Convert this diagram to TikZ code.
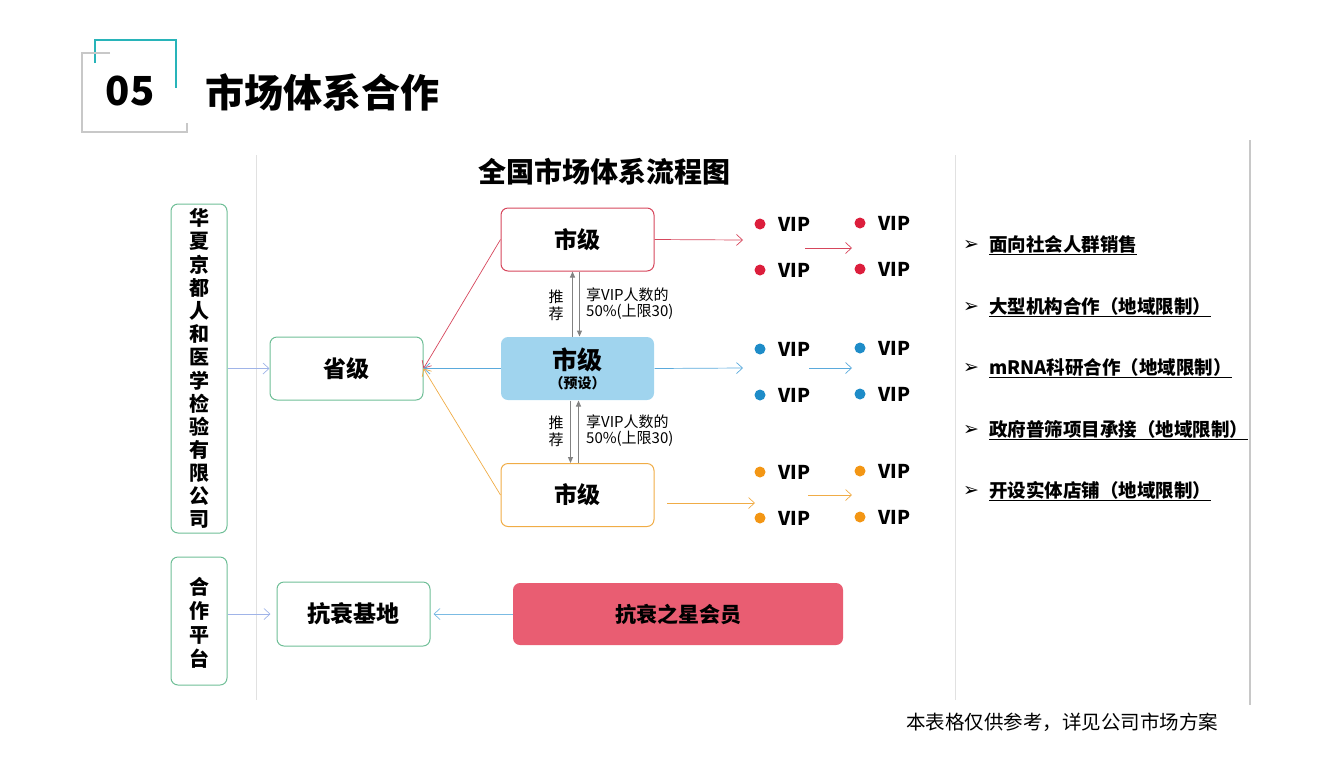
\documentclass[tikz,border=0pt]{standalone}
\usepackage{fontspec}
\setmainfont{Noto Sans CJK SC}
\newfontfamily\djv{DejaVu Sans}
\usetikzlibrary{arrows.meta}
\definecolor{gbox}{RGB}{110,190,150}
\definecolor{cred}{RGB}{214,70,92}
\definecolor{dred}{RGB}{220,30,60}
\definecolor{bfill}{RGB}{160,212,238}
\definecolor{barr}{RGB}{90,170,220}
\definecolor{dblue}{RGB}{30,140,200}
\definecolor{corg}{RGB}{240,172,70}
\definecolor{dorg}{RGB}{243,150,20}
\definecolor{teal}{RGB}{40,180,185}
\definecolor{gbr}{RGB}{200,200,200}
\definecolor{vline}{RGB}{225,225,225}
\definecolor{pinkf}{RGB}{233,93,114}
\definecolor{lav}{RGB}{160,180,232}
\definecolor{garr}{RGB}{130,130,130}
\tikzset{
  box/.style={draw=gbox, line width=1pt, rounded corners=7pt, minimum width=153pt, minimum height=63pt, font=\bfseries\fontsize{23}{26}\selectfont, inner sep=0pt},
  vbox/.style={draw=gbox, line width=1pt, rounded corners=7pt, minimum width=56pt, inner sep=0pt},
  vch/.style={font=\bfseries\fontsize{20}{22}\selectfont, inner sep=0pt},
  oarr/.style={-{Straight Barb[length=6pt,width=11pt]}, line width=0.7pt},
  garrow/.style={-{Triangle[length=6pt,width=5pt]}, line width=1pt, draw=garr},
  vip/.style={font=\bfseries\fontsize{19}{21}\selectfont, anchor=west, inner sep=0pt},
  glab/.style={font=\fontsize{15}{17}\selectfont, inner sep=0pt},
  item/.style={font=\bfseries\fontsize{18.5}{21}\selectfont, anchor=west, inner sep=0pt},
}
\begin{document}
\begin{tikzpicture}[x=1pt,y=-1pt]
\useasboundingbox (0,0) rectangle (1344,756);
% header
\draw[teal, line width=2.5pt] (95,63) -- (95,40) -- (176,40) -- (176,88);
\draw[gbr, line width=2.5pt] (110,53) -- (82,53) -- (82,132) -- (187,132) -- (187,123);
\node[font=\bfseries\fontsize{40}{44}\selectfont, inner sep=0pt] (num) at (130,91) {05};
\node[font=\bfseries\fontsize{39}{42}\selectfont, anchor=west, inner sep=0pt] (title) at (205,92) {市场体系合作};
% vertical separators
\draw[vline, line width=1pt] (256,155) -- (256,700);
\draw[vline, line width=1pt] (955,155) -- (955,700);
\draw[gbr, line width=1.5pt] (1250,140) -- (1250,705);
\node[font=\bfseries\fontsize{28}{30}\selectfont, inner sep=0pt] (sub) at (604,172) {全国市场体系流程图};
% left boxes
\node[vbox, minimum height=329pt] (co) at (199,368.5) {};
\foreach \ch [count=\i] in {华,夏,京,都,人,和,医,学,检,验,有,限,公,司}{
  \node[vch] (coc\i) at (199,{218+(\i-1)*23.2}) {\ch};
}
\node[vbox, minimum height=128pt] (plat) at (199,621) {};
\foreach \ch [count=\i] in {合,作,平,台}{
  \node[vch] (plc\i) at (199,{587+(\i-1)*24}) {\ch};
}
% main boxes
\node[box] (prov) at (346.5,368.5) {省级};
\node[box, draw=cred] (cr) at (577.5,239.5) {市级};
\node[box, draw=none, fill=bfill] (cb) at (577.5,368.5) {};
\node[font=\bfseries\fontsize{25}{28}\selectfont, inner sep=0pt] (cbt) at (577.5,360) {市级};
\node[font=\bfseries\fontsize{14}{16}\selectfont, inner sep=0pt] (cbs) at (577.5,383) {（预设）};
\node[box, draw=corg] (co2) at (577.5,495) {市级};
\node[box, minimum height=64pt] (base) at (353.5,614) {抗衰基地};
\node[box, draw=none, fill=pinkf, minimum width=330pt, minimum height=62pt, font=\bfseries\fontsize{21}{24}\selectfont] (star) at (678,614) {抗衰之星会员};
% connectors to province
\draw[oarr, draw=lav] (co.east |- prov) -- (prov.west);
\draw[oarr, draw=cred] (cr.west) -- (prov.east);
\draw[oarr, draw=barr] (cb.west) -- (prov.east);
\draw[oarr, draw=corg] (co2.west) -- (prov.east);
\draw[oarr, draw=lav] (plat.east |- base) -- ([xshift=-6pt]base.west);
\draw[oarr, draw=barr!80] (star.west) -- ([xshift=3pt]base.east);
% gray vertical arrows
\draw[garrow] ([xshift=-5pt]cb.north) -- ([xshift=-5pt]cr.south);
\draw[garrow] ([xshift=2pt]cr.south) -- ([xshift=2pt]cb.north);
\draw[garrow] ([xshift=-7pt]cb.south) -- ([xshift=-7pt]co2.north);
\draw[garrow] ([xshift=1pt]co2.north) -- ([xshift=1pt]cb.south);
\node[glab] (t1a) at (556,297) {推};
\node[glab] (t1b) at (556,314) {荐};
\node[glab, anchor=west] (r1a) at (586,295) {享VIP人数的};
\node[glab, anchor=west] (r1b) at (586,312) {50\%(上限30)};
\node[glab] (t2a) at (556,423) {推};
\node[glab] (t2b) at (556,440) {荐};
\node[glab, anchor=west] (r2a) at (586,422) {享VIP人数的};
\node[glab, anchor=west] (r2b) at (586,439) {50\%(上限30)};
% VIP arrows
\coordinate (ra) at (743,240);
\coordinate (ba) at (743,368);
\coordinate (oa0) at (667,503);
\coordinate (oa) at (755,503);
\draw[oarr, draw=cred] (cr.east) -- (ra);
\draw[oarr, draw=barr] (cb.east) -- (ba);
\draw[oarr, draw=corg] (oa0) -- (oa);
\coordinate (r2s) at (805,248); \coordinate (r2e) at (852,248);
\coordinate (b2s) at (809,368); \coordinate (b2e) at (852,368);
\coordinate (o2s) at (808,495); \coordinate (o2e) at (852,495);
\draw[oarr, draw=cred] (r2s) -- (r2e);
\draw[oarr, draw=barr] (b2s) -- (b2e);
\draw[oarr, draw=corg] (o2s) -- (o2e);
% VIP items
\foreach \c/\ya/\yb/\n in {dred/224/270/r, dblue/349/395/b, dorg/472/518/o}{
  \fill[\c] (760,\ya) circle (5.5pt);
  \fill[\c] (760,\yb) circle (5.5pt);
  \fill[\c] (860,\ya-1) circle (5.5pt);
  \fill[\c] (860,\yb-1) circle (5.5pt);
  \node[vip] (\n a) at (778,\ya) {VIP};
  \node[vip] (\n b) at (778,\yb) {VIP};
  \node[vip] (\n c) at (878,\ya-1) {VIP};
  \node[vip] (\n d) at (878,\yb-1) {VIP};
}
% right list
\foreach \y/\t/\n in {245/面向社会人群销售/l1, 307/大型机构合作（地域限制）/l2, 368/mRNA科研合作（地域限制）/l3, 430/政府普筛项目承接（地域限制）/l4, 491/开设实体店铺（地域限制）/l5}{
  \node[font=\djv\fontsize{19}{21}\selectfont, inner sep=0pt] (\n m) at (971,\y) {➢};
  \node[item] (\n) at (989,\y) {\underline{\t}};
}
\node[font=\fontsize{19.5}{22}\selectfont, anchor=west, inner sep=0pt] (foot) at (906,722) {本表格仅供参考，详见公司市场方案};
\end{tikzpicture}
\end{document}
